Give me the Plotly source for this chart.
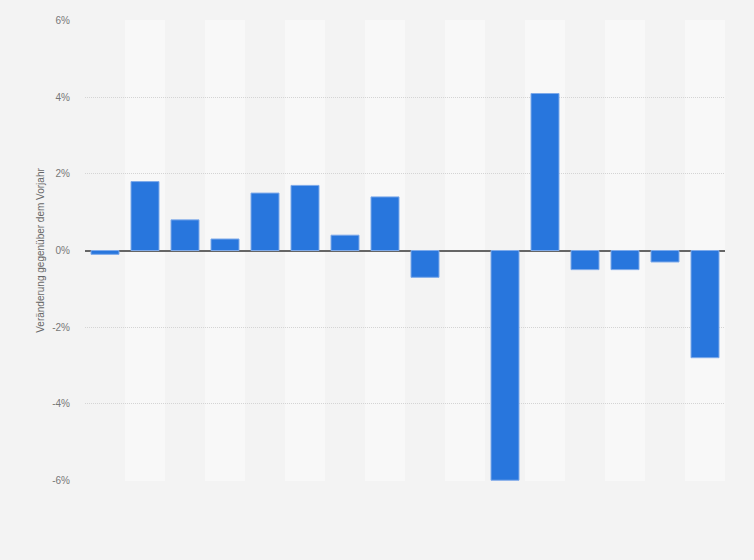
import plotly.graph_objects as go

categories = [str(i) for i in range(1, 17)]
values = [-0.1, 1.8, 0.8, 0.3, 1.5, 1.7, 0.4, 1.4, -0.7, None, -6.0, 4.1, -0.5, -0.5, -0.3, -2.8]
tick_vals = [-6, -4, -2, 0, 2, 4, 6]
tick_text = ["-6%", "-4%", "-2%", "0%", "2%", "4%", "6%"]

fig = go.Figure()
fig.add_trace(go.Bar(
    x=categories, y=values,
    marker=dict(color="#2876dd", line=dict(color="#7eaaea", width=1)),
    width=0.7,
))

shapes = []
for i in range(len(categories)):
    if i % 2 == 1:
        shapes.append(dict(type="rect", xref="x", yref="paper",
                           x0=i - 0.5, x1=i + 0.5, y0=0, y1=1,
                           fillcolor="#f8f8f8", line=dict(width=0), layer="below"))

fig.update_layout(
    width=754, height=560,
    paper_bgcolor="#f3f3f3", plot_bgcolor="#f3f3f3",
    margin=dict(l=85, r=29, t=20, b=79),
    shapes=shapes,
    showlegend=False,
    bargap=0.3,
    font=dict(family="Arial, Liberation Sans, sans-serif", size=10, color="#666666"),
)
fig.update_xaxes(showticklabels=False, showgrid=False, zeroline=False,
                 range=[-0.5, 15.5], fixedrange=True)
fig.update_yaxes(range=[-6.02, 6.02], tickvals=tick_vals, ticktext=tick_text,
                 showgrid=True, gridcolor="#d4d4d4", griddash="1px,1px", gridwidth=1,
                 zeroline=True, zerolinecolor="#666666", zerolinewidth=2,
                 ticks="", ticklabelstandoff=14,
                 title=dict(text="Veränderung gegenüber dem Vorjahr", standoff=5,
                            font=dict(size=10, color="#666666")),
                 tickfont=dict(size=10, color="#777777"))

fig.write_html("out.html", config={"displayModeBar": False},
               post_script="document.body.style.margin='0';document.body.style.background='#f3f3f3';")
